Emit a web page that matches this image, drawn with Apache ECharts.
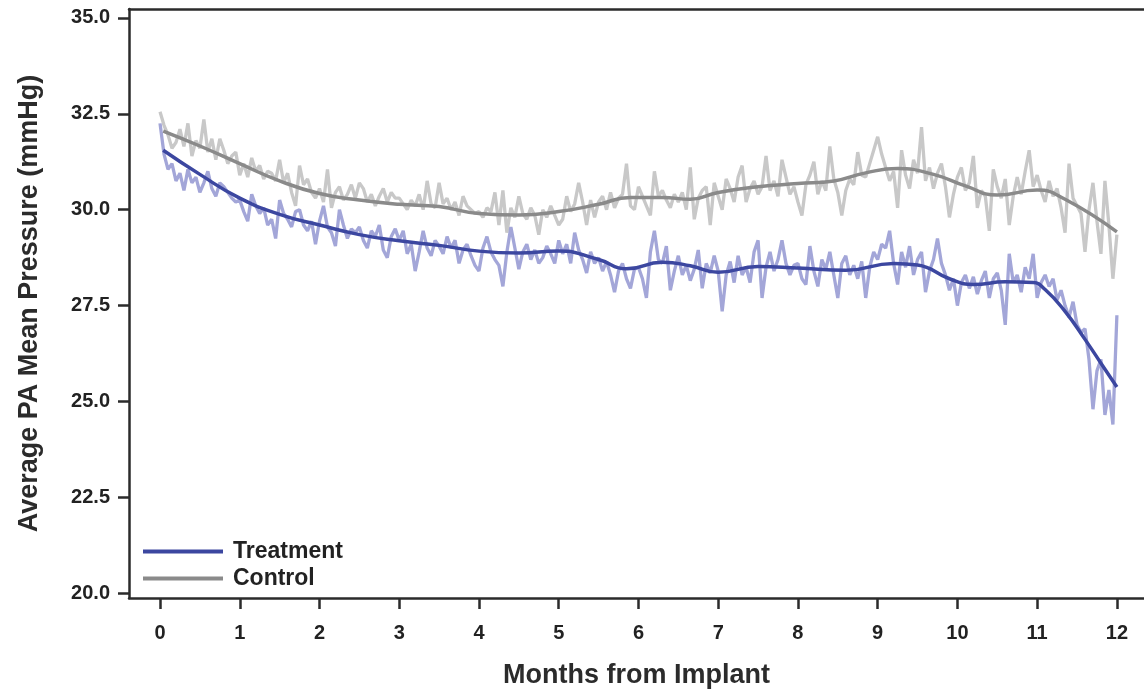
<!DOCTYPE html>
<html>
<head>
<meta charset="utf-8">
<script src="https://cdn.jsdelivr.net/npm/echarts@6/dist/echarts.min.js"></script>
<style>
  html, body { margin: 0; padding: 0; background: #fff; }
  #chart { width: 1144px; height: 694px; }
</style>
</head>
<body>
<div id="chart"></div>
<script>
// daily series are sampled every 0.05 month, starting at month 0
var STEP = 0.05;

var treatNoisy = [
  32.25, 31.45, 31.05, 31.2, 30.75, 30.95, 30.5, 31.05, 30.7, 30.85, 30.45, 30.7, 31.0, 30.55, 30.35, 30.7, 30.6, 30.45, 30.3, 30.2,
  30.25, 29.95, 29.7, 30.4, 30.1, 29.9, 30.05, 29.6, 29.75, 29.25, 30.25, 29.9, 29.75, 29.55, 29.95, 30.0, 29.6, 29.45, 29.7, 29.1,
  29.7, 30.1, 29.55, 29.4, 29.05, 30.0, 29.6, 29.25, 29.5, 29.4, 29.55, 29.2, 29.0, 29.45, 29.3, 29.6, 28.95, 28.75, 29.3, 29.5,
  29.2, 29.45, 28.85, 29.1, 28.4, 28.9, 29.45, 29.0, 28.8, 29.2, 29.05, 28.85, 29.3, 29.0, 29.2, 28.6, 28.95, 29.1, 28.8, 28.55,
  28.4, 29.0, 29.3, 28.9, 28.7, 28.55, 28.0, 28.9, 29.55, 29.0, 28.45, 28.9, 29.1, 28.7, 28.95, 28.6, 28.75, 29.05, 28.85, 28.6,
  29.2, 28.85, 29.1, 28.6, 29.4, 28.95, 28.7, 28.35, 28.9, 28.6, 28.75, 28.4, 28.65, 28.3, 27.85, 28.4, 28.6, 28.2, 27.95, 28.45,
  28.5, 28.2, 27.7, 28.9, 29.45, 28.7, 28.6, 29.05, 27.9, 28.4, 28.8, 28.3, 28.55, 28.15, 28.45, 28.95, 27.95, 28.6, 28.35, 28.8,
  28.4, 27.35, 28.3, 28.65, 28.1, 28.8, 28.3, 28.5, 28.1, 28.9, 29.2, 27.7, 28.5, 28.9, 28.4, 28.7, 29.2, 28.6, 28.3, 28.55,
  28.6, 28.2, 28.05, 29.05, 28.4, 28.0, 28.7, 28.45, 28.9, 28.3, 27.7, 28.6, 28.8, 28.3, 28.55, 28.2, 28.65, 27.7, 28.5, 28.9,
  28.7, 29.1, 29.0, 29.45, 28.6, 28.05, 28.9, 28.5, 29.05, 28.3, 28.7, 28.9, 27.85, 28.4, 28.7, 29.25, 28.6, 28.3, 27.9, 28.2,
  27.5, 28.1, 28.3, 27.95, 28.25, 27.8, 28.15, 28.4, 27.7, 28.2, 28.35, 27.9, 27.0, 28.85, 28.1, 28.3, 27.85, 28.5, 28.2, 28.85,
  27.7, 28.1, 28.3, 28.0, 28.2, 27.65, 27.9, 27.5, 27.2, 27.6, 27.0, 26.8, 26.9, 26.1, 24.8, 25.8, 26.1, 24.65, 25.3, 24.4,
  27.25
];

var ctrlNoisy = [
  32.55, 32.2, 31.95, 31.6, 31.75, 32.1, 31.65, 32.25, 31.4, 31.8, 31.6, 32.35, 31.5, 31.85, 31.3, 31.85, 31.55, 31.2, 31.4, 31.5,
  30.9, 31.2, 30.85, 31.35, 31.0, 31.15, 30.8, 31.0, 30.95, 30.75, 31.3, 30.7, 30.95, 30.45, 30.1, 31.15, 30.65, 30.8, 30.45, 30.3,
  30.55, 30.2, 31.05, 30.05, 30.45, 30.6, 30.25, 30.4, 30.65, 30.3, 30.7, 30.55, 30.2, 30.4, 30.1, 30.35, 30.55, 30.2, 30.45, 30.3,
  30.3, 30.15, 30.0, 30.25, 30.1, 30.4, 30.0, 30.75, 30.15, 30.05, 30.7, 30.15, 30.3, 30.0, 30.2, 29.85, 30.35, 30.1, 30.0, 29.9,
  29.95, 29.8, 30.05, 29.95, 30.45, 29.6, 30.5, 29.4, 30.05, 29.8, 30.35, 29.9, 29.75, 30.05, 29.85, 29.35, 30.0, 29.8, 30.1, 29.85,
  29.6, 29.75, 30.35, 29.95, 30.15, 30.7, 30.2, 29.6, 30.25, 29.8, 30.2, 30.35, 30.0, 30.45, 30.05, 30.3, 30.4, 31.2, 30.1, 30.0,
  30.6, 30.35, 30.1, 29.85, 31.0, 30.35, 30.5, 30.25, 30.05, 30.4, 30.2, 30.45, 30.0, 31.1, 29.75, 30.3, 30.5, 30.6, 29.6, 30.7,
  30.35, 30.0, 30.8, 30.55, 30.2, 30.85, 31.15, 30.2, 30.55, 30.75, 30.4, 30.6, 31.4, 30.5, 30.75, 30.35, 31.3, 30.85, 30.4, 30.6,
  30.2, 29.85, 30.65, 30.9, 31.25, 30.4, 30.75, 30.5, 31.65, 30.8, 30.45, 29.85, 30.5, 30.8, 30.65, 31.5, 30.9, 30.85, 31.2, 31.55,
  31.9, 31.45, 31.1, 30.75, 31.0, 30.05, 31.55, 30.9, 30.55, 31.3, 30.95, 32.15, 30.75, 31.1, 30.55, 30.95, 31.2, 30.6, 29.8, 30.4,
  30.85, 31.1, 30.5, 30.7, 31.4, 30.05, 30.5, 30.35, 29.45, 31.05, 30.6, 30.3, 30.8, 29.6, 30.35, 30.85, 30.4, 31.0, 31.55, 30.6,
  30.9, 30.5, 30.2, 30.75, 30.35, 30.55, 30.05, 29.4, 31.2, 30.3, 30.1, 29.9, 28.9, 30.0, 30.7, 29.7, 28.85, 30.75, 29.6, 28.2,
  29.35
];

// smoothed trend lines, [month, mmHg]
var treatSmooth = [
  [0.04, 31.55], [0.5, 30.92], [1.0, 30.3], [1.5, 29.88], [2.0, 29.6], [2.5, 29.35], [3.0, 29.19],
  [3.5, 29.07], [4.0, 28.92], [4.5, 28.87], [5.0, 28.92], [5.5, 28.7], [5.85, 28.46], [6.3, 28.63],
  [6.65, 28.54], [7.0, 28.37], [7.5, 28.52], [8.0, 28.48], [8.6, 28.42], [9.2, 28.6], [9.5, 28.56],
  [9.9, 28.2], [10.2, 28.05], [10.6, 28.12], [10.95, 28.1], [11.1, 27.92], [11.35, 27.35],
  [11.6, 26.62], [11.8, 26.0], [12.0, 25.38]
];
var ctrlSmooth = [
  [0.04, 32.05], [0.5, 31.66], [1.0, 31.2], [1.5, 30.75], [2.0, 30.42], [2.5, 30.25], [3.0, 30.14],
  [3.5, 30.08], [4.0, 29.9], [4.5, 29.86], [5.0, 29.95], [5.5, 30.14], [5.9, 30.32], [6.3, 30.32],
  [6.65, 30.27], [7.0, 30.45], [7.5, 30.6], [8.0, 30.68], [8.45, 30.75], [8.85, 30.96], [9.25, 31.07],
  [9.7, 30.92], [10.1, 30.62], [10.5, 30.38], [11.0, 30.51], [11.35, 30.27], [12.0, 29.42]
];

var xTicks = [0, 1, 2, 3, 4, 5, 6, 7, 8, 9, 10, 11, 12];
var yTicks = [20, 22.5, 25, 27.5, 30, 32.5, 35];

var chart = echarts.init(document.getElementById('chart'));

function toPairs(arr) {
  return arr.map(function (v, i) { return [+(i * STEP).toFixed(2), v]; });
}

var axisColor = '#2b2b2b';
var font = 'Liberation Sans, Arial, sans-serif';

chart.setOption({
  animation: false,
  grid: { left: 129, right: 0, top: 9, bottom: 94 },
  legend: {
    data: ['Treatment', 'Control'],
    orient: 'vertical',
    left: 143,
    top: 540,
    padding: 0,
    itemGap: 4,
    itemWidth: 80,
    itemHeight: 4,
    icon: 'rect',
    textStyle: { fontFamily: font, fontSize: 23, fontWeight: 'bold', color: '#222', padding: [0, 0, 0, 5] }
  },
  xAxis: [{
    type: 'value',
    min: -0.389,
    max: 12.34,
    name: 'Months from Implant',
    nameLocation: 'middle',
    nameGap: 64,
    nameTextStyle: { fontFamily: font, fontSize: 27, fontWeight: 'bold', color: '#2b2b2b' },
    splitLine: { show: false },
    axisLine: { onZero: false, lineStyle: { color: axisColor, width: 2.5 } },
    axisTick: { length: 11, customValues: xTicks, lineStyle: { color: axisColor, width: 2.5 } },
    axisLabel: {
      customValues: xTicks, margin: 25,
      fontFamily: font, fontSize: 20, fontWeight: 'bold', color: '#222'
    }
  }, {
    type: 'value',
    position: 'top',
    min: -0.389,
    max: 12.34,
    splitLine: { show: false },
    axisLine: { show: true, onZero: false, lineStyle: { color: axisColor, width: 2.5 } },
    axisTick: { show: false },
    axisLabel: { show: false }
  }],
  yAxis: {
    type: 'value',
    min: 19.88,
    max: 35.23,
    name: 'Average PA Mean Pressure (mmHg)',
    nameLocation: 'middle',
    nameGap: 86,
    nameTextStyle: { fontFamily: font, fontSize: 27, fontWeight: 'bold', color: '#2b2b2b' },
    splitLine: { show: false },
    axisLine: { onZero: false, lineStyle: { color: axisColor, width: 2.5 } },
    axisTick: { length: 11, customValues: yTicks, lineStyle: { color: axisColor, width: 2.5 } },
    axisLabel: {
      customValues: yTicks, margin: 19,
      formatter: function (v) { return v.toFixed(1); },
      fontFamily: font, fontSize: 20, fontWeight: 'bold', color: '#222'
    }
  },
  series: [
    {
      name: 'Control daily', type: 'line', data: toPairs(ctrlNoisy),
      showSymbol: false, lineStyle: { color: '#c8c8c8', width: 3.3 }, itemStyle: { color: '#c8c8c8' }
    },
    {
      name: 'Treatment daily', type: 'line', data: toPairs(treatNoisy),
      showSymbol: false, lineStyle: { color: '#a3a6d8', width: 3.3 }, itemStyle: { color: '#a3a6d8' }
    },
    {
      name: 'Control', type: 'line', data: ctrlSmooth, smooth: 0.5,
      showSymbol: false, lineStyle: { color: '#8a8a8a', width: 3.5 }, itemStyle: { color: '#8a8a8a' }
    },
    {
      name: 'Treatment', type: 'line', data: treatSmooth, smooth: 0.5,
      showSymbol: false, lineStyle: { color: '#3c47a0', width: 3.5 }, itemStyle: { color: '#3c47a0' }
    }
  ]
});
</script>
</body>
</html>
